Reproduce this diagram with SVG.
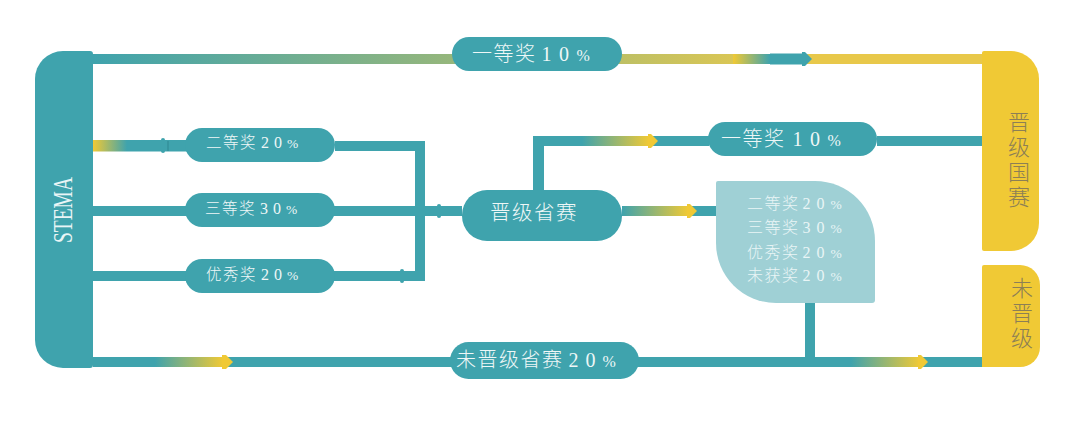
<svg xmlns="http://www.w3.org/2000/svg" width="1080" height="432" viewBox="0 0 1080 432">
<style>
.t{fill:#3fa3ad}.g{fill:#f0c935}
text{font-family:"Noto Sans CJK SC","Liberation Serif",serif;font-weight:300}
.w{fill:#eef7f7}.l{fill:#e9f5f6}
.s{font-size:15.5px;letter-spacing:1.5px}.r{font-size:16px;letter-spacing:1.500px}.m{font-size:20px;letter-spacing:1.5px}
.d{letter-spacing:5px;font-family:"Liberation Serif","Noto Sans CJK SC",serif;font-size:16px}
.f{letter-spacing:6px;font-family:"Liberation Serif","Noto Sans CJK SC",serif;font-size:16px}
.e{letter-spacing:7.5px;font-family:"Liberation Serif","Noto Sans CJK SC",serif;font-size:20px}
.p{font-size:13.5px;letter-spacing:0}.q{font-size:16px;letter-spacing:0}
.y{fill:#8c7f55;font-size:22px;letter-spacing:3px;writing-mode:vertical-rl}
</style>
<defs>
<linearGradient id="top"><stop offset="0" stop-color="#3fa3ad"/><stop offset="1" stop-color="#d9c655"/></linearGradient>
<linearGradient id="ty"><stop offset="0" stop-color="#3fa3ad"/><stop offset="1" stop-color="#f0c935"/></linearGradient>
<linearGradient id="yt"><stop offset="0" stop-color="#f0c935"/><stop offset="1" stop-color="#3fa3ad"/></linearGradient>
</defs>
<g id="connectors">
<rect x="93" y="54" width="640" height="10" fill="url(#top)"/>
<rect x="806" y="54" width="176" height="10" fill="#e8c84a"/>
<rect x="733" y="54" width="37" height="10" fill="url(#yt)"/>
<rect x="770" y="53.500" width="36" height="11" class="t"/>
<path d="M802 52H805L812 59L805 66H802Z" class="t"/>
<rect x="93" y="140" width="34" height="11.500" fill="url(#yt)"/>
<rect x="127" y="140" width="60" height="11.500" class="t"/>
<rect x="161" y="138" width="4" height="15" rx="2" class="t"/>
<rect x="167.500" y="141" width="1" height="10" fill="#2f8791"/>
<rect x="335" y="141" width="90" height="10" class="t"/>
<rect x="93" y="206" width="369" height="10" class="t"/>
<rect x="93" y="271" width="332" height="10" class="t"/>
<rect x="415" y="141" width="10" height="140" class="t"/>
<rect x="437" y="204" width="4" height="14" rx="2" class="t"/>
<rect x="400" y="269" width="4" height="14" rx="2" class="t"/>
<rect x="533" y="136" width="11" height="56" class="t"/>
<rect x="533" y="136" width="176" height="10" class="t"/>
<rect x="582" y="136" width="67" height="10" fill="url(#ty)"/>
<path d="M648 134L651 134L658 141L651 148L648 148Z" class="g"/>
<rect x="877" y="136" width="105" height="10" class="t"/>
<rect x="622" y="206" width="94" height="10" class="t"/>
<rect x="622" y="206" width="66" height="10" fill="url(#ty)"/>
<path d="M687 204L690 204L697 211L690 218L687 218Z" class="g"/>
<rect x="805" y="303" width="10" height="56" class="t"/>
<rect x="93" y="357" width="889" height="10" class="t"/>
<rect x="155" y="357" width="68" height="10" fill="url(#ty)"/>
<path d="M222 355L226 355L233 362L226 369L222 369Z" class="g"/>
<rect x="851" y="357" width="69" height="10" fill="url(#ty)"/>
<path d="M918 355L921 355L928 362L921 369L918 369Z" class="g"/>
</g>
<g id="stema">
<path d="M63 51H90Q93 51 93 54V365Q93 368 90 368H63A28 28 0 0 1 35 340V79A28 28 0 0 1 63 51Z" class="t"/>
<text transform="translate(72 243) rotate(-90)" textLength="66" lengthAdjust="spacingAndGlyphs" style="font-family:'Liberation Serif',serif;font-size:28px;font-weight:400" class="l">STEMA</text>
</g>
<g id="award1-top">
<rect x="452" y="37" width="170" height="34" rx="17" class="t"/>
<text x="472" y="61" class="m w">一等奖<tspan class="e" dx="5">10<tspan class="q">%</tspan></tspan></text>
</g>
<g id="award2">
<rect x="185" y="128" width="150" height="34" rx="17" class="t"/>
<text x="206" y="148" class="s w">二等奖<tspan class="d" dx="4">20<tspan class="p">%</tspan></tspan></text>
</g>
<g id="award3">
<rect x="185" y="193" width="150" height="34" rx="17" class="t"/>
<text x="205" y="214" class="s w">三等奖<tspan class="d" dx="4">30<tspan class="p">%</tspan></tspan></text>
</g>
<g id="excellent">
<rect x="185" y="259" width="150" height="34" rx="17" class="t"/>
<text x="206" y="280" class="s w">优秀奖<tspan class="d" dx="4">20<tspan class="p">%</tspan></tspan></text>
</g>
<g id="provincial">
<rect x="462" y="190" width="160" height="51" rx="25" class="t"/>
<text x="490" y="220" class="m w" style="font-size:20.500px">晋级省赛</text>
</g>
<g id="award1-right">
<rect x="708" y="122" width="169" height="34" rx="17" class="t"/>
<text x="721" y="146" class="m w">一等奖<tspan class="e" dx="7">10<tspan class="q">%</tspan></tspan></text>
</g>
<g id="results">
<path d="M718 181H815A60 60 0 0 1 875 241V300Q875 303 872 303H776A60 60 0 0 1 716 243V183Q716 181 718 181Z" fill="#9fd0d5"/>
<g class="r l">
<text x="747" y="209">二等奖<tspan class="f" dx="3">20<tspan class="p">%</tspan></tspan></text>
<text x="747" y="233">三等奖<tspan class="f" dx="3">30<tspan class="p">%</tspan></tspan></text>
<text x="747" y="258">优秀奖<tspan class="f" dx="3">20<tspan class="p">%</tspan></tspan></text>
<text x="747" y="281">未获奖<tspan class="f" dx="3">20<tspan class="p">%</tspan></tspan></text>
</g>
</g>
<g id="not-provincial">
<rect x="450" y="342" width="189" height="37" rx="18.500" class="t"/>
<text x="456" y="367" class="m w">未晋级省赛<tspan class="e" dx="5" style="letter-spacing:7px">20<tspan class="q">%</tspan></tspan></text>
</g>
<g id="national">
<path d="M984 51H1011A28 28 0 0 1 1039 79V223A28 28 0 0 1 1011 251H984Q982 251 982 249V53Q982 51 984 51Z" class="g"/>
<text x="1019" y="111" class="y">晋级国赛</text>
</g>
<g id="not-promoted">
<path d="M984 265H1020A20 20 0 0 1 1040 285V347A20 20 0 0 1 1020 367H982V267Q982 265 984 265Z" class="g"/>
<text x="1022" y="277" class="y">未晋级</text>
</g>
</svg>
